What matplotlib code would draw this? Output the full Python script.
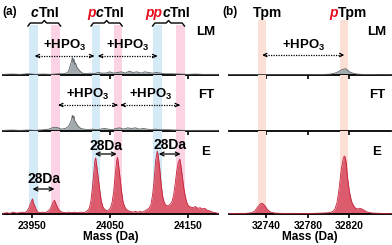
import matplotlib.pyplot as plt
import matplotlib.transforms as mtransforms
from matplotlib.lines import Line2D

plt.rcParams["font.family"] = "Liberation Sans"
plt.rcParams["font.weight"] = "bold"
plt.rcParams["mathtext.default"] = "regular"

# --- data (relative intensity, tallest E peak = 100) ---

# panel (a): cTnI
lm_a_mass = [23913, 23925, 23935, 23945, 23955, 23965, 23975, 23985, 23992, 23996,
             23998, 24000, 24001, 24002, 24003, 24004, 24005, 24006, 24008, 24010,
             24012, 24015, 24020, 24025, 24030, 24035, 24040, 24045, 24050, 24055,
             24060, 24065, 24070, 24075, 24080, 24085, 24090, 24095, 24100, 24105,
             24110, 24115, 24120, 24130, 24140, 24150, 24160, 24170, 24180, 24189]
lm_a_int = [1, 1.5, 1, 2, 1, 1.5, 1, 2, 2, 4,
            9, 18, 22, 28, 20, 26, 17, 19, 12, 9,
            6, 3, 2, 3, 2, 4, 3, 3, 5, 3,
            4, 5, 3, 6, 4, 5, 3, 5, 4, 3,
            4, 3, 2, 2, 1.5, 1, 1.5, 1, 1, 1]

ft_a_mass = [23913, 23925, 23935, 23945, 23955, 23965, 23972, 23976, 23980, 23984,
             23988, 23993, 23997, 23999, 24001, 24002, 24003, 24004, 24005, 24006,
             24008, 24010, 24013, 24017, 24022, 24028, 24033, 24038, 24043, 24048,
             24053, 24058, 24063, 24068, 24073, 24078, 24083, 24088, 24093, 24098,
             24103, 24108, 24115, 24125, 24135, 24145, 24160, 24175, 24189]
ft_a_int = [1, 1.5, 1, 1.5, 1, 2, 3, 5, 6, 5,
            3, 4, 7, 12, 18, 25, 20, 24, 16, 15,
            10, 7, 4, 3, 2, 3, 2, 3, 4, 3,
            2, 4, 5, 3, 5, 4, 5, 3, 4, 3,
            2, 3, 2, 2, 1.5, 1, 1, 1, 1]

e_a_mass = [23913, 23918, 23922, 23926, 23930, 23934, 23938, 23941, 23944, 23946,
            23948, 23950, 23951, 23952, 23954, 23956, 23958, 23961, 23964, 23967,
            23970, 23973, 23975, 23977, 23979, 23980, 23982, 23984, 23986, 23989,
            23993, 23997, 24001, 24005, 24009, 24013, 24017, 24020, 24022, 24024,
            24026, 24028, 24030, 24031, 24032, 24033, 24035, 24037, 24039, 24041,
            24043, 24045, 24047, 24049, 24051, 24053, 24055, 24057, 24059, 24060,
            24061, 24063, 24065, 24067, 24069, 24071, 24074, 24077, 24080, 24083,
            24086, 24089, 24092, 24095, 24098, 24101, 24103, 24105, 24107, 24109,
            24111, 24112, 24114, 24116, 24118, 24120, 24122, 24124, 24126, 24128,
            24130, 24132, 24134, 24136, 24138, 24140, 24141, 24143, 24145, 24147,
            24149, 24151, 24154, 24157, 24160, 24163, 24166, 24169, 24172, 24175,
            24178, 24182, 24186, 24189]
e_a_int = [1, 2, 1, 3, 1.5, 2, 3, 2, 5, 9,
           16, 22, 24, 18, 12, 6, 3, 2, 3, 2,
           4, 7, 12, 18, 22, 19, 13, 8, 5, 3,
           2, 3, 2, 3, 2, 3, 2, 4, 6, 10,
           22, 45, 72, 85, 89, 80, 60, 40, 22, 12,
           8, 6, 5, 7, 10, 18, 35, 62, 85, 90,
           82, 60, 38, 20, 12, 8, 5, 4, 3, 4,
           3, 4, 3, 5, 7, 10, 16, 30, 55, 85,
           100, 95, 75, 48, 28, 18, 14, 13, 14, 16,
           20, 30, 48, 68, 82, 87, 80, 62, 42, 28,
           18, 13, 11, 10, 12, 9, 10, 8, 9, 6,
           5, 3, 2, 1]

# panel (b): Tpm
lm_b_mass = [32704, 32720, 32740, 32760, 32780, 32795, 32802, 32806, 32809, 32812,
             32814, 32816, 32818, 32820, 32823, 32827, 32832, 32845, 32860]
lm_b_int = [0.5, 0.5, 0.5, 0.5, 0.5, 0.8, 1.5, 3, 5, 8,
            9, 10, 8, 5, 3, 1.5, 1, 0.5, 0.5]

e_b_mass = [32704, 32712, 32720, 32726, 32729, 32731, 32733, 32735, 32737, 32739,
            32741, 32744, 32748, 32755, 32765, 32775, 32785, 32795, 32800, 32804,
            32806, 32808, 32810, 32812, 32814, 32815, 32816, 32817, 32818, 32820,
            32822, 32824, 32826, 32828, 32830, 32832, 32834, 32837, 32842, 32850,
            32860]
e_b_int = [0.5, 1, 1, 2, 5, 10, 14, 17, 16, 12,
           7, 3, 1.5, 1, 1, 0.8, 1, 1.5, 2, 4,
           8, 18, 40, 70, 88, 92, 90, 80, 60, 35,
           20, 13, 9, 8, 9, 8, 6, 3, 1.5, 1,
           0.5]

ticks_a = [23950, 24050, 24150]
ticks_b = [32740, 32780, 32820]
xlim_a = (23913, 24189)
xlim_b = (32704, 32860)

bands_a_blue = [(23947, 23958), (24027, 24038), (24106, 24117)]
bands_a_pink = [(23975, 23986), (24055, 24066), (24135, 24146)]
bands_b = [(32732, 32740), (32811, 32819)]

row_names = ["LM", "FT", "E"]

# --- layout in pixels ---
W, H = 392, 245


def fx(x):
    return x / W


def fy(y):
    return 1 - y / H


fig = plt.figure(figsize=(W / 100, H / 100), dpi=100)

rows_px = [(20, 75), (75, 131), (131, 214)]
cols_px = [(3, 218), (229, 391)]
PX_PER_UNIT = 0.63

GREY_FILL, GREY_LINE = "#a3aaae", "#5a6064"
RED_FILL, RED_LINE = "#dc5b6d", "#c4233b"
BLUE, PINK, ORANGE = "#d5eaf7", "#fbd3e4", "#fde0d5"

axes = []
for c, (x0, x1) in enumerate(cols_px):
    col = []
    for r, (y0, y1) in enumerate(rows_px):
        ax = fig.add_axes([fx(x0), fy(y1), (x1 - x0) / W, (y1 - y0) / H])
        ax.patch.set_alpha(0)
        ax.set_xlim(xlim_a if c == 0 else xlim_b)
        ax.set_ylim(0, (y1 - y0) / PX_PER_UNIT)
        for s in ["top", "left", "right"]:
            ax.spines[s].set_visible(False)
        ax.spines["bottom"].set_linewidth(1.3)
        ax.set_yticks([])
        ax.set_xticks(ticks_a if c == 0 else ticks_b)
        ax.tick_params(axis="x", direction="out", length=3, width=1.2, pad=2,
                       labelsize=7.5, labelbottom=(r == 2))
        for lab in ax.get_xticklabels():
            lab.set_fontweight("bold")
        if r == 2:
            ax.set_xlabel("Mass (Da)", fontsize=8.5, fontweight="bold", labelpad=0)
        col.append(ax)
    axes.append(col)

# shaded bands
for r in range(3):
    top_a = (75 - 25) / 55 if r == 0 else 1
    for lo, hi in bands_a_blue:
        axes[0][r].axvspan(lo, hi, ymin=0, ymax=top_a, color=BLUE, lw=0, zorder=0)
    for lo, hi in bands_a_pink:
        axes[0][r].axvspan(lo, hi, ymin=0, ymax=top_a, color=PINK, lw=0, zorder=0)
    for lo, hi in bands_b:
        axes[1][r].axvspan(lo, hi, color=ORANGE, lw=0, zorder=0)


def spec(ax, m, i, fill, line):
    ax.fill_between(m, 0, i, color=fill, lw=0, zorder=2)
    ax.plot(m, i, color=line, lw=0.6, zorder=3)


spec(axes[0][0], lm_a_mass, lm_a_int, GREY_FILL, GREY_LINE)
spec(axes[0][1], ft_a_mass, ft_a_int, GREY_FILL, GREY_LINE)
spec(axes[0][2], e_a_mass, e_a_int, RED_FILL, RED_LINE)
spec(axes[1][0], lm_b_mass, lm_b_int, GREY_FILL, GREY_LINE)
spec(axes[1][2], e_b_mass, e_b_int, RED_FILL, RED_LINE)

# row labels
for c, xs in enumerate([206, 377]):
    for name, yy in zip(row_names, [32, 95, 152]):
        fig.text(fx(xs), fy(yy), name, ha="center", va="center", fontsize=9.5)

fig.text(fx(10), fy(12), "(a)", ha="center", va="center", fontsize=8.5)
fig.text(fx(230), fy(12), "(b)", ha="center", va="center", fontsize=8.5)

renderer = fig.canvas.get_renderer()


def rich(x_px, y_px, parts, size=10):
    texts = []
    for s, color, style in parts:
        texts.append(fig.text(0, 0, s, color=color, style=style, fontsize=size,
                              ha="left", va="center"))
    widths = [t.get_window_extent(renderer).width for t in texts]
    x = x_px - sum(widths) / 2
    for t, w in zip(texts, widths):
        t.set_position((fx(x), fy(y_px)))
        x += w


RED = "#e8101e"
rich(45, 13, [("c", "k", "italic"), ("TnI", "k", "normal")])
rich(106, 13, [("p", RED, "italic"), ("c", "k", "italic"), ("TnI", "k", "normal")])
rich(168, 13, [("pp", RED, "italic"), ("c", "k", "italic"), ("TnI", "k", "normal")])
rich(267, 13, [("Tpm", "k", "normal")])
rich(348, 13, [("p", RED, "italic"), ("Tpm", "k", "normal")])


def blend(ax):
    return mtransforms.blended_transform_factory(ax.transData, fig.transFigure)


def brace(ax, a, b, y=23):
    m = (a + b) / 2
    xs = [a, a + 3, m - 3, m, m + 3, b - 3, b]
    ys = [y + 3, y, y, y - 2.5, y, y, y + 3]
    ax.add_line(Line2D(xs, [fy(v) for v in ys], transform=blend(ax), color="k",
                       lw=1, clip_on=False))


brace(axes[0][0], 23945, 23987)
brace(axes[0][0], 24026, 24066)
brace(axes[0][0], 24105, 24146)


def dotted_arrow(ax, m1, m2, y_px, label, ty_px):
    tr = blend(ax)
    y = fy(y_px)
    ax.plot([m1 + 1, m2 - 1], [y, y], transform=tr, color="k", lw=0.9,
            ls=(0, (1, 1)), clip_on=False)
    for end, back in [(m1, m1 + 3), (m2, m2 - 3)]:
        ax.annotate("", xy=(end, y), xytext=(back, y), xycoords=tr, textcoords=tr,
                    arrowprops=dict(arrowstyle="->", lw=0.9, color="k", shrinkA=0,
                                    shrinkB=0, mutation_scale=6))
    ax.text((m1 + m2) / 2, fy(ty_px), label, transform=tr, ha="center",
            va="center", fontsize=9.5)


HPO3 = "+HPO$_3$"
dotted_arrow(axes[0][0], 23954, 24030, 56, HPO3, 45)
dotted_arrow(axes[0][0], 24035, 24111, 56, HPO3, 45)
dotted_arrow(axes[0][1], 23984, 24060, 105, HPO3, 94)
dotted_arrow(axes[0][1], 24064, 24140, 105, HPO3, 94)
dotted_arrow(axes[1][0], 32736, 32815, 55, HPO3, 45)


def da_arrow(ax, m1, m2, y_px, ty_px):
    tr = blend(ax)
    ax.annotate("", xy=(m1, fy(y_px)), xytext=(m2, fy(y_px)), xycoords=tr,
                textcoords=tr, arrowprops=dict(arrowstyle="<->", lw=0.9, color="k",
                                               shrinkA=0, shrinkB=0,
                                               mutation_scale=7))
    ax.text((m1 + m2) / 2, fy(ty_px), "28Da", transform=tr, ha="center",
            va="center", fontsize=10)


da_arrow(axes[0][2], 23951, 23979, 189, 179)
da_arrow(axes[0][2], 24031, 24059, 154, 146)
da_arrow(axes[0][2], 24113, 24141, 154, 145)

fig.savefig("out.png", dpi=100)
